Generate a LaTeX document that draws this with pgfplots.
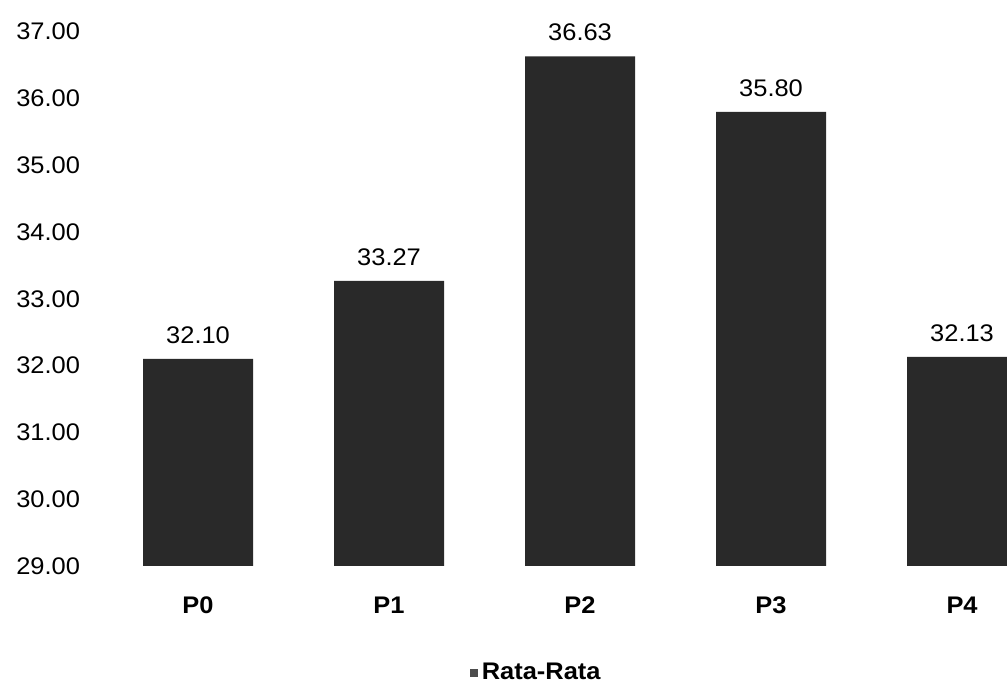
\documentclass[border=0pt]{standalone}
\usepackage{fontspec}
\setmainfont{Liberation Sans}[FakeStretch=1.06]
\usepackage{pgfplots}
\pgfplotsset{compat=1.18}
\begin{document}
\begin{tikzpicture}
\begin{axis}[
  at={(46.5pt,59pt)}, anchor=south west,
  x=95.5pt, y=33.4pt,
  xmin=-0.55, xmax=5, ymin=29, ymax=37,
  axis line style={draw=none},
  tick style={draw=none},
  clip=false,
  ybar, bar width=55pt, bar shift=0pt,
  xtick={0,1,2,3,4},
  xticklabels={P0,P1,P2,P3,P4},
  xticklabel style={font=\fontsize{12}{13}\selectfont\bfseries, anchor=center, yshift=-15.5pt},
  ytick={29,30,...,37},
  yticklabel style={font=\fontsize{12}{13}\selectfont, xshift=-3pt},
  /pgf/number format/assume math mode=true,
  y tick label style={/pgf/number format/.cd, fixed, fixed zerofill, precision=2},
  nodes near coords,
  nodes near coords style={font=\fontsize{12}{13}\selectfont, anchor=center, yshift=12pt,
    /pgf/number format/.cd, fixed, fixed zerofill, precision=2, assume math mode=true},
  legend style={at={(0.419,-0.2)}, anchor=center, draw=none, fill=none,
    font=\fontsize{12}{13}\selectfont\bfseries},
  legend image code/.code={\fill[black!70] (0pt,-2pt) rectangle (4pt,2pt);},
]
\addplot[fill=black!84, draw=none] coordinates {(0,32.10) (1,33.27) (2,36.63) (3,35.80) (4,32.13)};
\addlegendentry{Rata-Rata}
\end{axis}
\pgfresetboundingbox
\useasboundingbox (0,0) rectangle (503.5pt,342pt);
\end{tikzpicture}
\end{document}
